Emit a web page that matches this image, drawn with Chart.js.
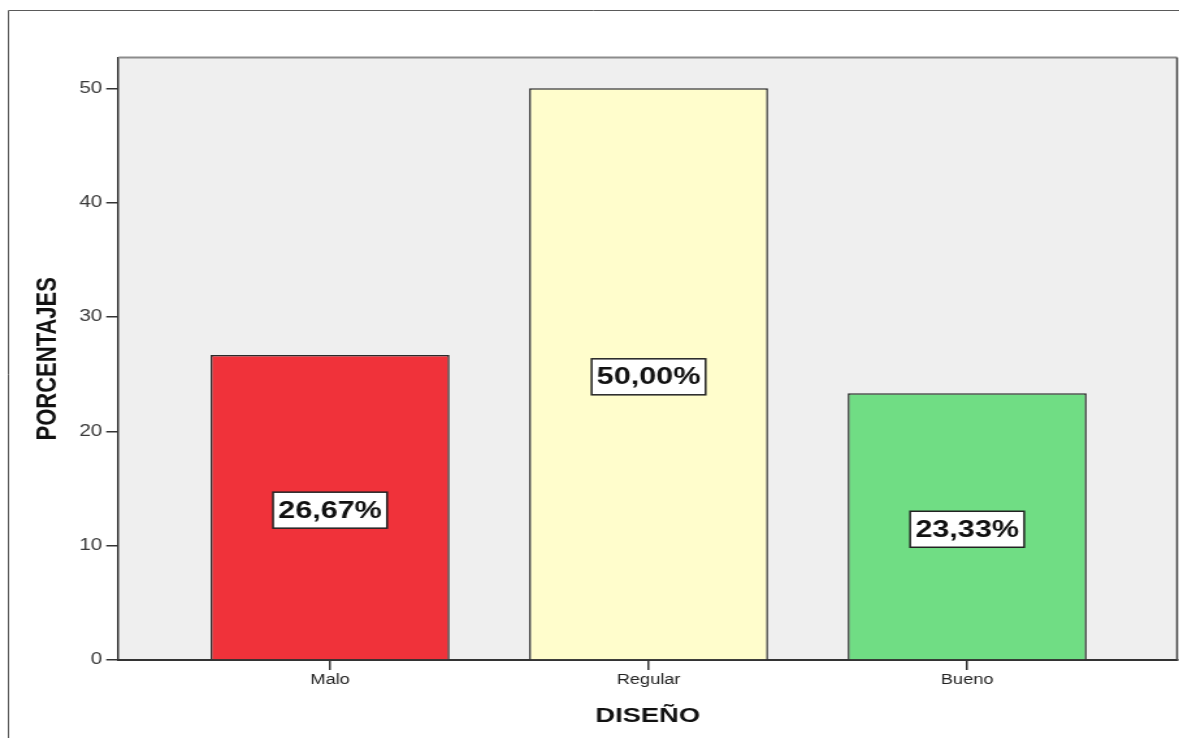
<!DOCTYPE html>
<html lang="es">
<head>
<meta charset="utf-8">
<title>DISEÑO</title>
<script src="https://cdn.jsdelivr.net/npm/chart.js@4/dist/chart.umd.min.js"></script>
<style>
    html, body { margin: 0; padding: 0; background: #fff; }
    #chart { display: block; }
</style>
</head>
<body>
<!-- drawn narrow and stretched sideways, like the exported figure -->
<canvas id="chart" width="907" height="738" style="width:1179px;height:738px"></canvas>
<script>
const categories = ['Malo', 'Regular', 'Bueno'];
const percentages = [26.67, 50.00, 23.33];
const barColors = ['#f0323a', '#fffdcc', '#70dd84'];
const yTicks = [0, 10, 20, 30, 40, 50];

const fontFamily = "Arial, 'Liberation Sans', sans-serif";

// plot background, plot frame on top/right and the outer frame of the figure
const frame = {
    id: 'frame',
    beforeDraw(chart) {
        const { ctx, chartArea: a, width, height } = chart;
        ctx.save();
        ctx.fillStyle = '#efefef';
        ctx.fillRect(a.left, a.top, a.right - a.left, a.bottom - a.top);

        ctx.strokeStyle = '#5a5a5a';
        ctx.lineWidth = 1;
        ctx.beginPath();
        ctx.moveTo(6.5, height);
        ctx.lineTo(6.5, 10.5);
        ctx.lineTo(width, 10.5);
        ctx.stroke();
        ctx.restore();
    },
    afterDraw(chart) {
        const { ctx, chartArea: a } = chart;
        ctx.save();
        ctx.strokeStyle = '#8c8c8c';
        ctx.lineWidth = 2;
        ctx.beginPath();
        ctx.moveTo(a.left, a.top);
        ctx.lineTo(a.right, a.top);
        ctx.stroke();
        ctx.strokeStyle = '#444';
        ctx.lineWidth = 1.5;
        ctx.beginPath();
        ctx.moveTo(a.right, a.top);
        ctx.lineTo(a.right, a.bottom);
        ctx.stroke();
        ctx.restore();
    }
};

// boxed percentage label in the middle of each bar
const barLabels = {
    id: 'barLabels',
    afterDatasetsDraw(chart) {
        const { ctx } = chart;
        const meta = chart.getDatasetMeta(0);
        ctx.save();
        ctx.font = 'bold 23.5px ' + fontFamily;
        ctx.textAlign = 'center';
        ctx.textBaseline = 'middle';
        meta.data.forEach((bar, i) => {
            const text = percentages[i].toFixed(2).replace('.', ',') + '%';
            const cx = bar.x;
            const cy = (bar.y + bar.base) / 2 + 3;
            const w = ctx.measureText(text).width + 8;
            const h = 36;
            ctx.fillStyle = '#fff';
            ctx.fillRect(cx - w / 2, cy - h / 2, w, h);
            ctx.strokeStyle = '#222';
            ctx.lineWidth = 1.5;
            ctx.strokeRect(cx - w / 2, cy - h / 2, w, h);
            ctx.fillStyle = '#111';
            ctx.fillText(text, cx, cy + 1);
        });
        ctx.restore();
    }
};

new Chart(document.getElementById('chart'), {
    type: 'bar',
    data: {
        datasets: [{
            data: percentages.map((v, i) => ({ x: i, y: v })),
            backgroundColor: barColors,
            borderColor: '#2a2a2a',
            borderWidth: 1.5,
            borderSkipped: 'start',
            categoryPercentage: 1,
            barPercentage: 0.75
        }]
    },
    options: {
        responsive: false,
        animation: false,
        layout: { padding: { top: 57.5, right: 1.5, left: 0, bottom: 0 } },
        plugins: {
            legend: { display: false },
            tooltip: { enabled: false }
        },
        scales: {
            x: {
                type: 'linear',
                offset: false,
                min: -0.664,
                max: 2.659,
                afterFit: s => { s.height = 78; },
                afterBuildTicks: s => {
                    s.ticks = categories.map((c, i) => ({ value: i }));
                },
                ticks: {
                    callback: v => categories[v] ?? '',
                    color: '#222',
                    padding: 2,
                    font: { family: fontFamily, size: 14 }
                },
                grid: { offset: false, drawOnChartArea: false, tickLength: 10, color: '#333', lineWidth: 1.5 },
                border: { color: '#333', width: 2 },
                title: {
                    display: true,
                    text: 'DISEÑO',
                    color: '#111',
                    padding: { top: 0, bottom: 9.5 },
                    font: { family: fontFamily, size: 21, weight: 'bold' }
                }
            },
            y: {
                min: 0,
                max: 52.7,
                afterFit: s => { s.width = 91.2; },
                afterBuildTicks: s => {
                    s.ticks = yTicks.map(v => ({ value: v }));
                },
                ticks: {
                    color: '#3a3a3a',
                    padding: 3,
                    font: { family: fontFamily, size: 16 }
                },
                grid: { drawOnChartArea: false, tickLength: 9.5, color: '#333', lineWidth: 1.5 },
                border: { color: '#333', width: 1.5 },
                title: {
                    display: true,
                    text: 'PORCENTAJES',
                    color: '#111',
                    padding: { top: 24, bottom: 0 },
                    font: { family: fontFamily, size: 22, weight: 'bold' }
                }
            }
        }
    },
    plugins: [frame, barLabels]
});
</script>
</body>
</html>
